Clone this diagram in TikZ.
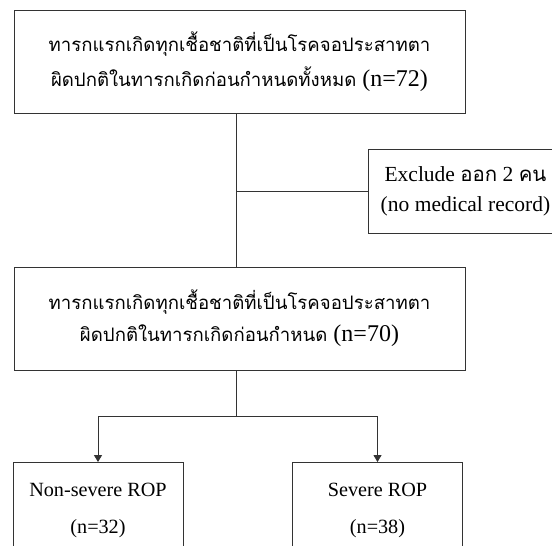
\documentclass[tikz,border=0pt]{standalone}
\usepackage{fontspec}
\setmainfont{Liberation Serif}
\newfontfamily\thaifont[Script=Thai,Scale=0.775]{Loma}
\newfontfamily\thaiword[Script=Thai,Scale=0.95]{Loma}
\usetikzlibrary{arrows,arrows.meta}

\begin{document}
\begin{tikzpicture}[x=1pt,y=1pt]
    \tikzset{box/.style = {shape=rectangle, draw=black!80, line width=0.9pt, align=center, inner sep=0pt}}
    \tikzset{bigbox/.style = {box, minimum width=451pt, minimum height=103pt, font=\fontsize{24}{35}\selectfont}}
    \tikzset{smallbox/.style = {box, minimum width=170pt, minimum height=95pt, font=\fontsize{20.2}{37}\selectfont}}
    \tikzset{link/.style = {draw=black!80, line width=0.9pt}}

    \clip (0,0) rectangle (552,-546);

    % boxes
    \node[bigbox] (all) at (239.5,-61.5) {{\thaifont ทารกแรกเกิดทุกเชื้อชาติที่เป็นโรคจอประสาทตา}\\{\thaifont ผิดปกติในทารกเกิดก่อนกำหนดทั้งหมด} (n=72)};
    \node[box, minimum width=195pt, minimum height=84pt, font=\fontsize{21.5}{30}\selectfont] (excl) at (465.5,-191) {Exclude {\thaiword ออก} 2 {\thaiword คน}\\(no medical record)};
    \node[bigbox, font=\fontsize{24}{32}\selectfont] (rop) at (239.5,-318.5) {{\thaifont ทารกแรกเกิดทุกเชื้อชาติที่เป็นโรคจอประสาทตา}\\{\thaifont ผิดปกติในทารกเกิดก่อนกำหนด} (n=70)};
    \node[smallbox] (mild) at (98,-510) {Non-severe ROP\\(n=32)};
    \node[smallbox] (severe) at (377.5,-510) {Severe ROP\\(n=38)};

    % joints
    \coordinate (j1) at (236,-191);
    \coordinate (j2) at (236,-416);

    % lines
    \draw [link] (all.south -| j1) -- (rop.north -| j1);
    \draw [link] (j1) -- (excl.west);
    \draw [link] (rop.south -| j2) -- (j2);
    \draw [link,-{Triangle[width=8pt,length=7pt]}] (j2) -| (mild.north);
    \draw [link,-{Triangle[width=8pt,length=7pt]}] (j2) -| (severe.north);
\end{tikzpicture}
\end{document}
